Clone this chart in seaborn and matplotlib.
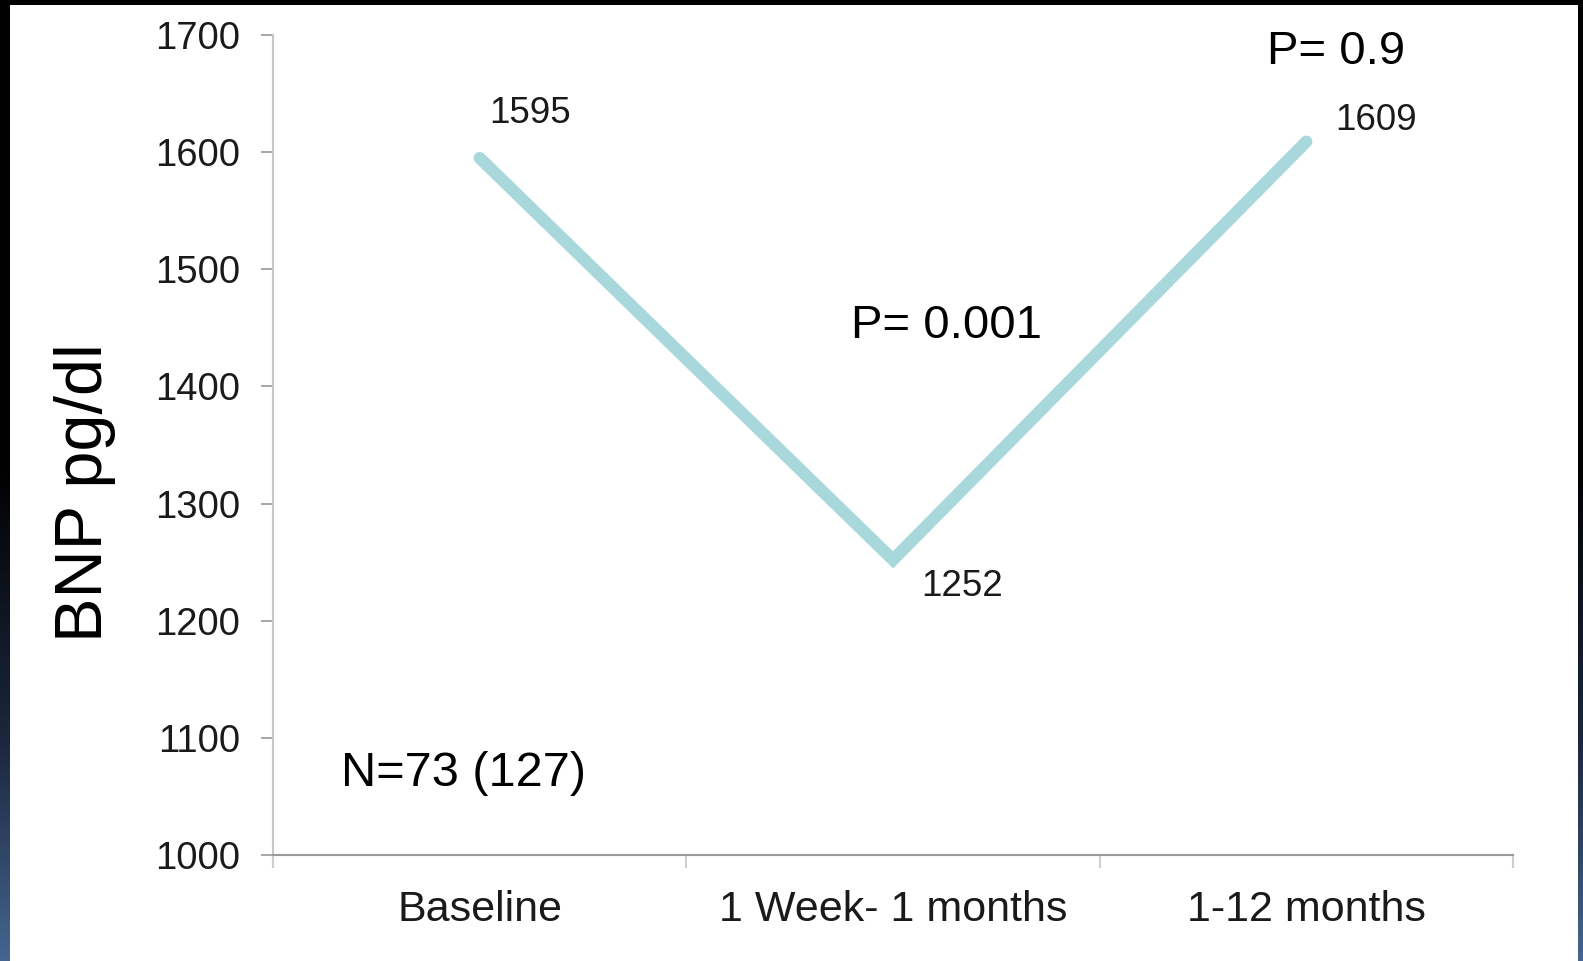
import numpy as np
import pandas as pd
import matplotlib
matplotlib.use("Agg")
import matplotlib.pyplot as plt
from matplotlib.colors import LinearSegmentedColormap
from matplotlib.patches import Rectangle
import seaborn as sns

# Mean BNP over follow-up
periods = ["Baseline", "1 Week- 1 months", "1-12 months"]
bnp_values = [1595, 1252, 1609]
y_ticks = [1000, 1100, 1200, 1300, 1400, 1500, 1600, 1700]
p_labels = ["P= 0.001", "P= 0.9"]
n_label = "N=73 (127)"
y_label = "BNP pg/dl"

df = pd.DataFrame({"period": periods, "bnp": bnp_values})

sns.set_theme(style="ticks")
plt.rcParams["font.family"] = ["Liberation Sans", "DejaVu Sans"]

W, H = 1583, 961
fig = plt.figure(figsize=(W / 100, H / 100), dpi=100)
fig.patch.set_facecolor("black")

# white slide area inside the dark frame
fig.add_artist(Rectangle((10 / W, 0), (1578 - 10) / W, (H - 5) / H,
                         transform=fig.transFigure, facecolor="white",
                         edgecolor="none", zorder=-5))

# side bands: black fading into navy toward the bottom
band_cmap = LinearSegmentedColormap.from_list(
    "band", [(0.0, "#000000"), (0.48, "#000000"), (0.78, "#1c2840"), (1.0, "#45658f")])
grad = np.linspace(0, 1, 256).reshape(-1, 1)
for x0, w in [(0, 10), (1578, 5)]:
    bax = fig.add_axes([x0 / W, 0, w / W, 1])
    bax.imshow(grad, aspect="auto", cmap=band_cmap, extent=[0, 1, 1, 0])
    bax.set_axis_off()
# top band
fig.add_artist(Rectangle((0, (H - 5) / H), 1, 5 / H, transform=fig.transFigure,
                         facecolor="black", edgecolor="none", zorder=-4))

ax = fig.add_axes([273 / W, 106 / H, 1240 / W, 820 / H])
ax.set_facecolor("white")

sns.lineplot(data=df, x="period", y="bnp", ax=ax, color="#a8d8dc",
             linewidth=8.8, solid_capstyle="round", solid_joinstyle="miter",
             sort=False)

ax.set_xlim(-0.5, 2.5)
ax.set_ylim(y_ticks[0], y_ticks[-1])
ax.set_yticks(y_ticks)
ax.set_xticks(range(len(periods)))
ax.set_xticklabels(periods)
ax.set_xticks([-0.5, 0.5, 1.5, 2.5], minor=True)
ax.set_xlabel("")
ax.set_ylabel(y_label, fontsize=48, color="black")
ax.yaxis.set_label_coords(-0.127, 0.442)

for s in ["top", "right"]:
    ax.spines[s].set_visible(False)
ax.spines["left"].set_color("#c8c8c8")
ax.spines["left"].set_linewidth(1.5)
ax.spines["bottom"].set_color("#9a9a9a")
ax.spines["bottom"].set_linewidth(1.5)

ax.tick_params(axis="y", which="major", length=8.6, width=1.3, color="#a0a0a0",
               pad=15, labelsize=27.5, labelcolor="#1a1a1a")
ax.tick_params(axis="x", which="major", length=0, pad=25, labelsize=31,
               labelcolor="#1a1a1a")
ax.tick_params(axis="x", which="minor", length=9.4, width=1.5, color="#cfcfcf",
               direction="out")

# value labels next to each point
offsets = [(7, 32, "center"), (20, -19, "center"), (21, 15, "center")]
for i, (v, (dx, dy, va)) in enumerate(zip(bnp_values, offsets)):
    ax.annotate(f"{v}", xy=(i, v), xytext=(dx, dy), textcoords="offset points",
                ha="left", va=va, fontsize=26.5, color="#1a1a1a")

ax.text(0.898, 1451.6, p_labels[0], ha="left", va="center", fontsize=34, color="black")
ax.text(1.905, 1685.5, p_labels[1], ha="left", va="center", fontsize=34, color="black")
ax.text(-0.335, 1070, n_label, ha="left", va="center", fontsize=35, color="black")

fig.savefig("out.png", dpi=100, facecolor=fig.get_facecolor())
